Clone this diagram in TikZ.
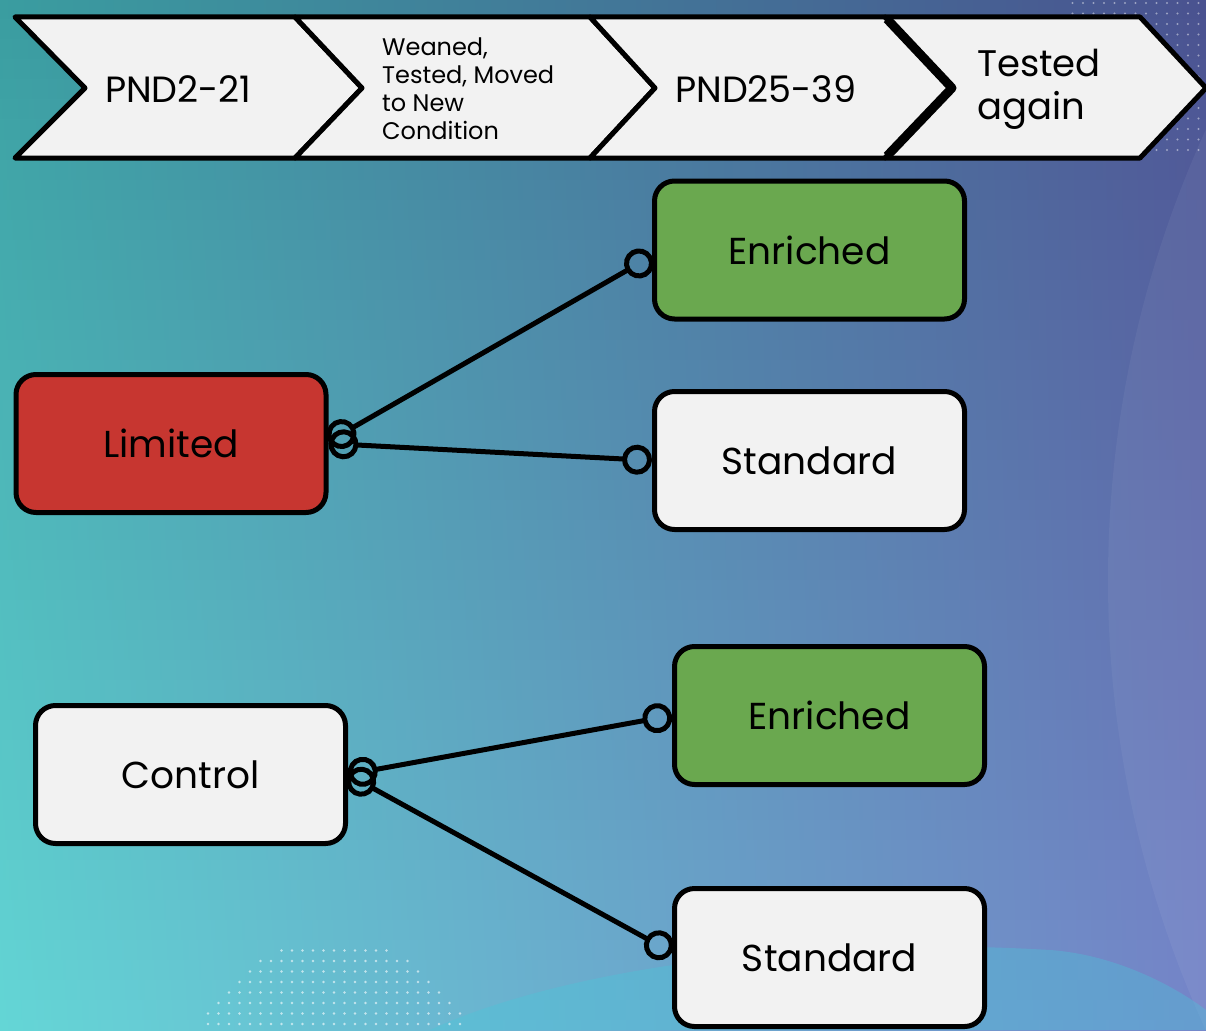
\documentclass[tikz,border=0pt]{standalone}
\usepackage{fontspec}
\setmainfont{Poppins}
\usetikzlibrary{arrows.meta,calc}

% background corner colours
\definecolor{bgTL}{HTML}{3A9DA0}
\definecolor{bgTR}{HTML}{4A5290}
\definecolor{bgBL}{HTML}{64D6D6}
\definecolor{bgBR}{HTML}{7686CA}
\definecolor{swell}{HTML}{48C8DA}
% box fills
\definecolor{paper}{HTML}{F2F2F2}
\definecolor{leafgreen}{HTML}{6AA84F}
\definecolor{brickred}{HTML}{C73630}

\tikzset{
  chevron/.style={fill=paper, draw=black, line width=5pt, line join=round},
  stagetext/.style={anchor=west, inner sep=0pt, align=left},
  groupbox/.style={draw=black, line width=5pt, rounded corners=20pt,
    minimum width=310pt, minimum height=138pt, inner sep=0pt,
    font=\fontsize{37.5}{40}\selectfont},
  link/.style={line width=5pt,
    {Circle[open,length=30pt,width=30pt]}-{Circle[open,length=30pt,width=30pt]}},
  dot/.style={fill=white, fill opacity=0.6}
}

\begin{document}
\begin{tikzpicture}[x=1pt, y=-1pt]
\useasboundingbox (0,0) rectangle (1206,1030);
\clip (0,0) rectangle (1206,1030);

% ---- background: bilinear gradient built from horizontal strips
\foreach \i in {0,...,51}{
  \pgfmathsetmacro{\p}{100-\i*100/51}
  \colorlet{stripL}{bgTL!\p!bgBL}
  \colorlet{stripR}{bgTR!\p!bgBR}
  \shade[left color=stripL, right color=stripR]
    (0,{\i*20}) rectangle (1206,{\i*20+21});
}
% large soft arc on the right
\fill[white, opacity=0.05] (2190,580) circle (1082);
% cyan swell along the bottom
\fill[swell, opacity=0.35]
  (430,1030) .. controls (560,970) and (800,935) .. (1050,950)
  .. controls (1120,955) and (1180,990) .. (1206,1010) -- (1206,1030) -- cycle;
% dotted half disc, bottom left (distances tested in tenths)
\foreach \a in {0,...,28}{
  \foreach \b in {0,...,9}{
    \pgfmathsetmacro{\dx}{187+\a*10.5}
    \pgfmathsetmacro{\dy}{940+\b*10.5}
    \pgfmathsetmacro{\inside}{(((\dx-334)/10)^2+((\dy-1090)/10)^2<15^2)?1:0}
    \ifnum\inside=1 \fill[dot] (\dx,\dy) circle (1.3); \fi
  }
}
% dotted patch, top right
\foreach \a in {0,...,14}{
  \foreach \b in {0,...,14}{
    \pgfmathsetmacro{\dx}{1062+\a*10.5}
    \pgfmathsetmacro{\dy}{3+\b*10.5}
    \pgfmathsetmacro{\inside}{(((\dx-1215)/10)^2+((\dy-40)/10)^2<15^2)?1:0}
    \ifnum\inside=1 \fill[dot, fill opacity=0.45] (\dx,\dy) circle (1.2); \fi
  }
}

% ---- timeline chevrons
\draw[chevron] (15,17) -- (295,17) -- (362,88) -- (295,158) -- (15,158) -- (85,88) -- cycle;
\draw[chevron] (295,17) -- (590,17) -- (655,88) -- (590,158) -- (295,158) -- (362,88) -- cycle;
\draw[chevron] (590,17) -- (885,17) -- (952,88) -- (885,158) -- (590,158) -- (655,88) -- cycle;
\draw[chevron] (885,17) -- (1140,17) -- (1206,88) -- (1140,158) -- (885,158) -- (952,88) -- cycle;
\draw[line width=9pt, line join=round] (887,19) -- (952,88) -- (887,156);

\node[stagetext, font=\fontsize{36.5}{40}\selectfont] (s1) at (105,89) {PND2-21};
\node[stagetext, font=\fontsize{24}{28}\selectfont] (s2) at (382,89)
  {Weaned,\\Tested, Moved\\to New\\Condition};
\node[stagetext, font=\fontsize{36.5}{40}\selectfont] (s3) at (675,89) {PND25-39};
\node[stagetext, font=\fontsize{37}{43}\selectfont] (s4) at (977,89) {Tested\\again};

% ---- housing groups
\node[groupbox, fill=leafgreen] (en1) at (809.5,250) {Enriched};
\node[groupbox, fill=paper]     (st1) at (809.5,460.5) {Standard};
\node[groupbox, fill=brickred]  (lim) at (171,443.5) {Limited};
\node[groupbox, fill=paper]     (ctl) at (190.5,774.5) {Control};
\node[groupbox, fill=leafgreen] (en2) at (829.5,715.5) {Enriched};
\node[groupbox, fill=paper]     (st2) at (829.5,957.5) {Standard};

% ---- connectors
\draw[link] ([yshift=2pt]lim.east) -- ([yshift=-6pt]en1.west);
\draw[link] (lim.east) -- (st1.west);
\draw[link] (ctl.east) -- (en2.west);
\draw[link] (ctl.east) -- ([yshift=5pt]st2.west);
\end{tikzpicture}
\end{document}
